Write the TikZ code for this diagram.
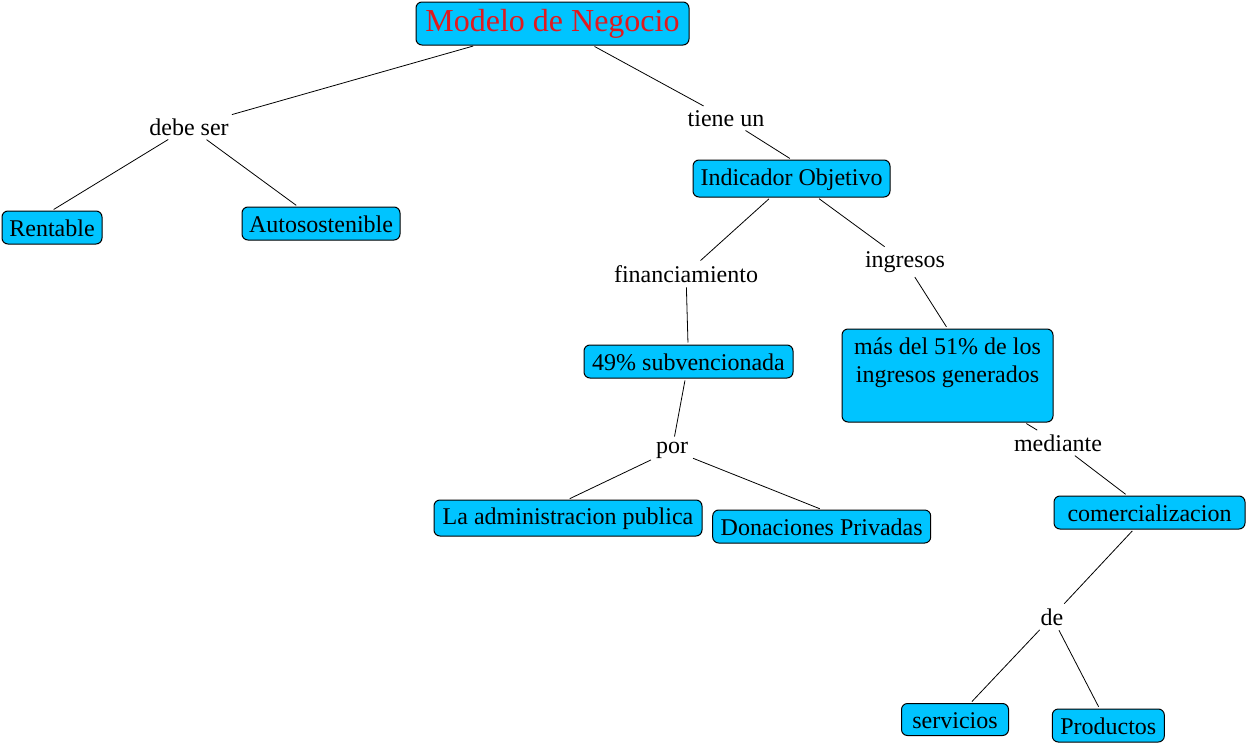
\documentclass[tikz,border=0pt]{standalone}
\usepackage{fontspec}
\setmainfont{Liberation Serif}
\definecolor{cbox}{RGB}{0,196,255}
\definecolor{ctitle}{RGB}{225,25,30}
\begin{document}
\begin{tikzpicture}[x=1pt,y=-1pt,
  box/.style={draw=black, line width=1pt, fill=cbox, rounded corners=6pt, inner sep=0pt},
  concept/.style={box, font=\fontsize{24}{28}\selectfont, text height=18pt, text depth=0pt},
  highc/.style={text height=17pt, text depth=4pt},
  linkw/.style={inner sep=3pt, font=\fontsize{24}{28}\selectfont, anchor=base},
  conn/.style={line width=0.8pt, shorten <=2pt, shorten >=2pt}]
\path[use as bounding box] (0,0) rectangle (1248,744);
% concepts
\node[box, minimum width=273pt, minimum height=43pt, font=\fontsize{32}{36}\selectfont, text=ctitle, text height=22pt, text depth=6pt] (modelo) at (552.5,23.5) {Modelo de Negocio};
\node[concept, minimum width=100pt, minimum height=33pt] (rentable) at (52,227.5) {Rentable};
\node[concept, minimum width=158pt, minimum height=33pt] (auto) at (321,223.5) {Autosostenible};
\node[concept, highc, minimum width=197pt, minimum height=37pt] (indicador) at (791.5,178.5) {Indicador Objetivo};
\node[concept, minimum width=209pt, minimum height=33pt] (subv) at (688.5,361.5) {49\% subvencionada};
\node[box, minimum width=211pt, minimum height=93pt] (mas) at (947.5,375.5) {\parbox[c][81pt][t]{205pt}{\centering\fontsize{24}{28}\selectfont\vspace*{3pt}más del 51\% de los\\ ingresos generados}};
\node[concept, highc, minimum width=268pt, minimum height=36pt] (admin) at (568,518) {La administracion publica};
\node[concept, minimum width=218pt, minimum height=33pt] (donac) at (821.7,526.5) {Donaciones Privadas};
\node[concept, minimum width=191pt, minimum height=33pt] (comerc) at (1149.5,512.5) {comercializacion};
\node[concept, minimum width=107pt, minimum height=32pt] (serv) at (955,719.5) {servicios};
\node[concept, minimum width=112pt, minimum height=33pt] (prod) at (1108.3,725.5) {Productos};
% linking phrases
\node[linkw] (debe) at (189,135) {debe ser};
\node[linkw] (tiene) at (726,126) {tiene un};
\node[linkw] (financ) at (686,282) {financiamiento};
\node[linkw] (ingr) at (905,267) {ingresos};
\node[linkw] (por) at (672,453) {por};
\node[linkw] (mediante) at (1058,451) {mediante};
\node[linkw] (de) at (1052,625) {de};
% connectors
\draw[conn] (modelo) -- (debe);
\draw[conn] (debe) -- (rentable.north);
\draw[conn] (debe) -- (auto);
\draw[conn] (modelo) -- (tiene);
\draw[conn] (tiene) -- (indicador.north);
\draw[conn] (indicador) -- (financ);
\draw[conn] (indicador) -- (ingr);
\draw[conn] (financ) -- (subv);
\draw[conn] (ingr) -- (mas.north);
\draw[conn] (subv) -- (por);
\draw[conn] (por) -- (admin.north);
\draw[conn] (por) -- (donac.north);
\draw[conn] (mas) -- (mediante);
\draw[conn] (mediante) -- (comerc);
\draw[conn] (comerc) -- (de);
\draw[conn] (de) -- (serv);
\draw[conn] (de) -- (prod);
\end{tikzpicture}
\end{document}
